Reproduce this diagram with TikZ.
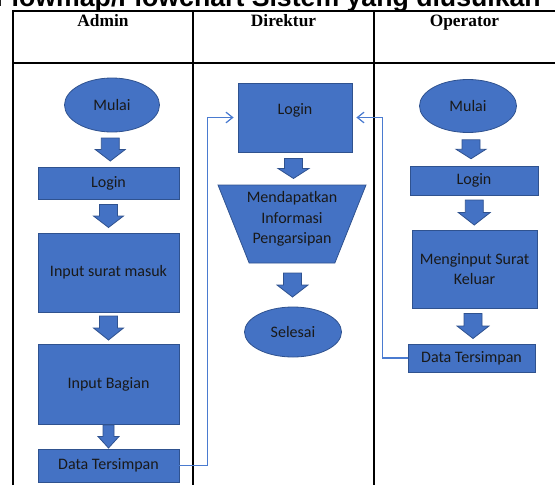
\documentclass[tikz,border=0pt]{standalone}
\usepackage{fontspec}
\setmainfont{Liberation Serif}
\newfontfamily\calibri{Carlito}
\newfontfamily\arialfont{Liberation Sans}
\usetikzlibrary{shapes.geometric,arrows.meta,calc}
\definecolor{boxfill}{HTML}{4472C4}
\definecolor{boxline}{HTML}{2F528F}
\definecolor{linkblue}{HTML}{4A7BD0}
\begin{document}
\begin{tikzpicture}[x=0.75pt,y=-0.75pt,
        every node/.style={font=\calibri\fontsize{12}{15.5}\selectfont,text=black!90,align=center,inner sep=1pt},
        proc/.style={rectangle,draw=boxline,fill=boxfill,line width=0.6pt},
        term/.style={ellipse,draw=boxline,fill=boxfill,line width=0.6pt},
        head/.style={font=\bfseries\fontsize{13}{15}\selectfont,text=black},
        link/.style={draw=linkblue,line width=0.9pt,-{Straight Barb[length=5pt,width=8pt]},shorten >=3pt},
        pics/blk/.style n args={3}{code={
            \filldraw[fill=boxfill,draw=boxline,line width=0.6pt] (-#2,-#1) -- (#2,-#1) -- (#2,0) -- (#3,0) -- (0,#1) -- (-#3,0) -- (-#2,0) -- cycle;}}]
        \useasboundingbox (0,0) rectangle (555,485);
        \clip (0,0) rectangle (555,485);

        \node[font=\arialfont\bfseries\fontsize{20}{24}\selectfont,text=black,anchor=base east,inner sep=0] (judul) at (541,7) {Flowmap/Flowchart Sistem yang diusulkan};

        \draw[line width=0.8pt] (13,485) -- (13,11) -- (555,11);
        \draw[line width=0.8pt] (13,63) -- (555,63);
        \draw[line width=0.8pt] (193,11) -- (193,485);
        \draw[line width=0.8pt] (374,11) -- (374,485);

        \node[head,anchor=base] (hAdmin) at (103,27) {Admin};
        \node[head,anchor=base] (hDirektur) at (283.5,27) {Direktur};
        \node[head,anchor=base] (hOperator) at (464.5,27) {Operator};

        \node[term,minimum width=71.25pt,minimum height=40.5pt] (mulaiA) at (112,105) {Mulai};
        \node[proc,minimum width=105.75pt,minimum height=24pt] (loginA) at (108.5,183) {Login};
        \node[proc,minimum width=105.75pt,minimum height=59.25pt] (inputA) at (108.5,272.5) {Input surat masuk};
        \node[proc,minimum width=105.75pt,minimum height=60pt] (bagianA) at (108.5,384) {Input Bagian};
        \node[proc,minimum width=105.75pt,minimum height=24.75pt] (dataA) at (108.5,465.5) {Data Tersimpan};

        \node[proc,minimum width=85.5pt,minimum height=51.75pt,text depth=13pt] (loginD) at (295,117.5) {Login};
        \node[proc,trapezium,trapezium angle=70,shape border rotate=180,trapezium stretches=true,
            minimum width=111pt,minimum height=58.5pt,
            label={[yshift=3.75pt]center:{Mendapatkan\\Informasi\\Pengarsipan}}] (infoD) at (292,224) {};
        \node[term,minimum width=72.75pt,minimum height=37.5pt] (selesai) at (293,332) {Selesai};

        \node[term,minimum width=72.75pt,minimum height=39.75pt] (mulaiO) at (468,106) {Mulai};
        \node[proc,minimum width=96pt,minimum height=21.75pt] (loginO) at (474,180.5) {Login};
        \node[proc,minimum width=93.75pt,minimum height=58.5pt] (inputO) at (474.5,269) {Menginput Surat\\Keluar};
        \node[proc,minimum width=95.25pt,minimum height=21pt] (dataO) at (471.5,358) {Data Tersimpan};

        \pic at ($(mulaiA.south)!.5!(loginA.north)$) {blk={11.5}{9}{15}};
        \pic at ($(loginA.south)!.5!(inputA.north)$) {blk={11.5}{9}{15}};
        \pic at ($(inputA.south)!.5!(bagianA.north)$) {blk={12}{9}{15}};
        \pic at ($(bagianA.south)!.5!(dataA.north)$) {blk={11.5}{5.5}{10.5}};

        \pic at ($(loginD.south)!.5!(infoD.north)$) {blk={10}{9}{15.5}};
        \pic at ($(infoD.south)!.5!(selesai.north)$) {blk={12}{9}{15.5}};

        \pic at ($(mulaiO.south)!.5!(loginO.north)$) {blk={9.5}{9}{15}};
        \pic at ($(loginO.south)!.5!(inputO.north)$) {blk={12.5}{9}{16}};
        \pic at ($(inputO.south)!.5!(dataO.north)$) {blk={12.5}{9}{16}};

        \draw[link] (dataA.east) -- ++(28,0) |- (loginD.west);
        \draw[link] (dataO.west) -- ++(-25,0) |- (loginD.east);
    \end{tikzpicture}
\end{document}
